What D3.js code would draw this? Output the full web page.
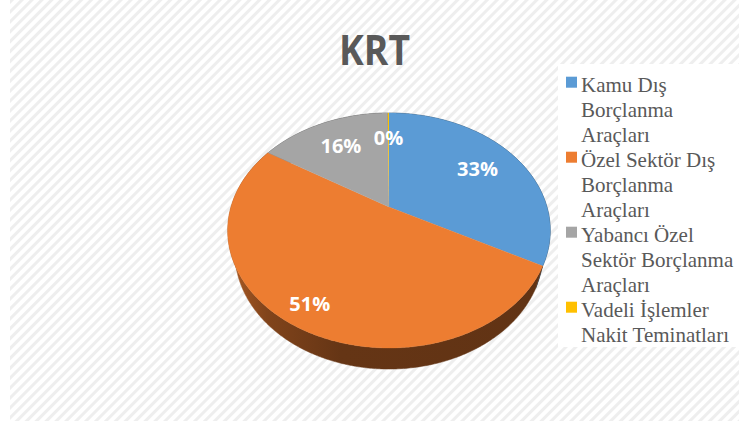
<!DOCTYPE html>
<html><head><meta charset="utf-8">
<script src="https://cdn.jsdelivr.net/npm/d3@7"></script>
<style>html,body{margin:0;padding:0;background:#fff;}svg{display:block;}
.leg{font-family:"Liberation Serif","Tinos","Times New Roman","DejaVu Serif",serif;font-size:21px;fill:#595959;}
</style>
</head><body>
<svg id="chart" width="750" height="427"></svg>
<script>
// ---- data ----
const title = "KRT";
const categories = ["Kamu Dış Borçlanma Araçları", "Özel Sektör Dış Borçlanma Araçları", "Yabancı Özel Sektör Borçlanma Araçları", "Vadeli İşlemler Nakit Teminatları"];
const legendLines = [["Kamu Dış", "Borçlanma", "Araçları"], ["Özel Sektör Dış", "Borçlanma", "Araçları"], ["Yabancı Özel", "Sektör Borçlanma", "Araçları"], ["Vadeli İşlemler", "Nakit Teminatları"]];
const values = [32.8, 51.0, 15.9, 0.15];
const colors = ["#5b9bd5", "#ed7d31", "#a5a5a5", "#ffc000"];

// ---- layout ----
const svg = d3.select("#chart");
const W = 750, H = 427;
const cx = 389, cy = 207, f = 553, D = 3.5;
const tilt = Math.asin(0.714), s = Math.sin(tilt), c = Math.cos(tilt), depth = 0.217;
const labelR = [0.7, 0.85, 0.7, 0.7];

const defs = svg.append("defs");
const pat = defs.append("pattern").attr("id", "hatch").attr("patternUnits", "userSpaceOnUse")
  .attr("width", 7).attr("height", 7).attr("patternTransform", "rotate(45)");
pat.append("rect").attr("width", 7).attr("height", 7).attr("fill", "#ffffff");
pat.append("rect").attr("width", 3).attr("height", 7).attr("fill", "#eeeeee");

svg.append("rect").attr("x", 0).attr("y", 0).attr("width", W).attr("height", H).attr("fill", "#fff");
svg.append("rect").attr("x", 10).attr("y", 0).attr("width", 729).attr("height", 421).attr("fill", "url(#hatch)");

function proj(ang, r, h) {
  const u = r * Math.sin(ang), v = -r * Math.cos(ang);
  const Y = v * s + h * c, Z = D - v * c + h * s;
  return [cx + f * u / Z, cy + f * Y / Z];
}

const pie = d3.pie().sort(null).value(d => d)(values);
const line = d3.line();

function arcPts(a0, a1, h) {
  const n = Math.max(2, Math.ceil((a1 - a0) / 0.01));
  const pts = [];
  for (let i = 0; i <= n; i++) pts.push(proj(a0 + (a1 - a0) * i / n, 1, h));
  return pts;
}

// side gradients
pie.forEach((p, i) => {
  const g = defs.append("linearGradient").attr("id", "side" + i).attr("gradientUnits", "userSpaceOnUse")
    .attr("x1", 228).attr("x2", 551).attr("y1", 0).attr("y2", 0);
  const base = d3.rgb(colors[i]);
  [[0, 0.9], [0.12, 1.7], [0.35, 2.4], [1, 2.5]].forEach(([o, k]) =>
    g.append("stop").attr("offset", o).attr("stop-color", base.darker(k).formatHex()));
});

// sides
const gSide = svg.append("g");
pie.forEach((p, i) => {
  const top = arcPts(p.startAngle, p.endAngle, 0);
  const bot = arcPts(p.startAngle, p.endAngle, depth).reverse();
  gSide.append("path").attr("d", line(top.concat(bot)) + "Z").attr("fill", `url(#side${i})`)
    .attr("stroke", `url(#side${i})`).attr("stroke-width", 0.5);
});

// tops
const gTop = svg.append("g");
pie.forEach((p, i) => {
  const pts = [proj(0, 0, 0)].concat(arcPts(p.startAngle, p.endAngle, 0));
  gTop.append("path").attr("d", line(pts) + "Z").attr("fill", colors[i])
    .attr("stroke", i === 3 ? "none" : colors[i]).attr("stroke-width", 0.3);
});

// labels
const total = d3.sum(values);
const gLab = svg.append("g");
pie.forEach((p, i) => {
  const mid = (p.startAngle + p.endAngle) / 2;
  const [x, y] = proj(mid, labelR[i], 0);
  gLab.append("text").attr("x", x).attr("y", y).attr("dy", "0.35em").attr("text-anchor", "middle")
    .attr("font-family", "'Open Sans', sans-serif").attr("font-weight", 700).attr("font-size", 20)
    .attr("fill", "#fff").text(Math.round(values[i] / total * 100) + "%");
});

// title
svg.append("text").attr("x", 339).attr("y", 65).attr("textLength", 71).attr("lengthAdjust", "spacingAndGlyphs")
  .attr("font-family", "'Open Sans', sans-serif").attr("font-weight", 700).attr("font-size", 42)
  .attr("fill", "#595959").text(title);

// legend
const lg = svg.append("g");
lg.append("rect").attr("x", 558).attr("y", 64).attr("width", 187).attr("height", 283).attr("fill", "#fff");
let lineIdx = 0;
legendLines.forEach((lines, i) => {
  const y0 = 91.7 + lineIdx * 25;
  lg.append("rect").attr("x", 566).attr("y", y0 - 15).attr("width", 11).attr("height", 11).attr("fill", colors[i]);
  lines.forEach((t, j) => {
    lg.append("text").attr("class", "leg").attr("x", 581).attr("y", y0 + j * 25).text(t);
  });
  lineIdx += lines.length;
});
</script>
</body></html>
